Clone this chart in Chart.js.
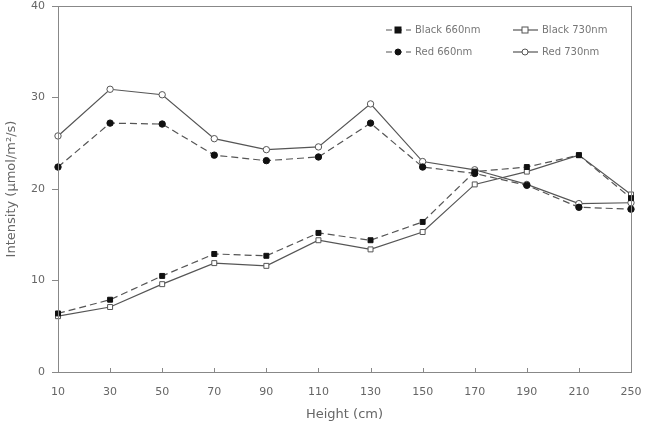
<!DOCTYPE html>
<html lang="en">
<head>
  <meta charset="UTF-8" />
  <title>Intensity vs Height</title>
  <script src="https://cdn.jsdelivr.net/npm/chart.js"></script>
  <style>
    html, body { margin: 0; padding: 0; background: #fff; }
    #wrap { width: 647px; height: 426px; }
  </style>
</head>
<body>
  <div id="wrap"><canvas id="grafico"></canvas></div>

  <script>
    const heights = ['10', '30', '50', '70', '90', '110', '130', '150', '170', '190', '210', '250'];
    const black660 = [6.4, 7.9, 10.5, 12.9, 12.7, 15.2, 14.4, 16.4, 21.9, 22.4, 23.7, 19.0];
    const black730 = [6.1, 7.1, 9.6, 11.9, 11.6, 14.4, 13.4, 15.3, 20.5, 21.9, 23.7, 19.4];
    const red660 = [22.4, 27.2, 27.1, 23.7, 23.1, 23.5, 27.2, 22.4, 21.7, 20.4, 18.0, 17.8];
    const red730 = [25.8, 30.9, 30.3, 25.5, 24.3, 24.6, 29.3, 23.0, 22.1, 20.5, 18.4, 18.5];

    const lineCol = '#555';

    function serie(label, data, style, dashed, filled) {
      return {
        label: label,
        data: data,
        borderColor: lineCol,
        borderWidth: 1.2,
        borderDash: dashed ? [7, 4] : [],
        pointStyle: style,
        pointRadius: style === 'rect' ? 3.5 : 3.2,
        pointBackgroundColor: filled ? '#111' : '#fff',
        pointBorderColor: filled ? '#111' : '#555',
        pointBorderWidth: 1,
        tension: 0
      };
    }

    // marco, ticks internos del eje x y leyenda en dos columnas
    const extras = {
      id: 'extras',
      afterDraw(chart) {
        const { ctx, chartArea: a, scales } = chart;
        ctx.save();
        ctx.strokeStyle = '#888';
        ctx.lineWidth = 1;
        ctx.strokeRect(a.left + 0.5, a.top + 0.5, a.right - a.left, a.bottom - a.top);
        ctx.beginPath();
        heights.forEach((h, i) => {
          const px = Math.round(scales.x.getPixelForValue(i)) + 0.5;
          ctx.moveTo(px, a.bottom);
          ctx.lineTo(px, a.bottom - 4);
        });
        ctx.stroke();

        const pos = [[398, 30], [525, 30], [398, 52], [525, 52]];
        ctx.font = '10px "DejaVu Sans"';
        ctx.textBaseline = 'middle';
        chart.data.datasets.forEach((ds, i) => {
          const [x, y] = pos[i];
          ctx.strokeStyle = lineCol;
          ctx.lineWidth = 1.2;
          ctx.setLineDash(ds.borderDash.length ? [6, 4] : []);
          ctx.beginPath();
          ctx.moveTo(x - 12, y);
          ctx.lineTo(x + 13, y);
          ctx.stroke();
          ctx.setLineDash([]);
          ctx.fillStyle = ds.pointBackgroundColor;
          ctx.strokeStyle = ds.pointBorderColor;
          ctx.lineWidth = 1;
          if (ds.pointStyle === 'rect') {
            ctx.fillRect(x - 3, y - 3, 6, 6);
            ctx.strokeRect(x - 3, y - 3, 6, 6);
          } else {
            ctx.beginPath();
            ctx.arc(x, y, 3, 0, Math.PI * 2);
            ctx.fill();
            ctx.stroke();
          }
          ctx.fillStyle = '#777';
          ctx.fillText(ds.label, x + 17, y);
        });
        ctx.restore();
      }
    };

    new Chart(document.getElementById('grafico'), {
      type: 'line',
      data: {
        labels: heights,
        datasets: [
          serie('Black 660nm', black660, 'rect', true, true),
          serie('Black 730nm', black730, 'rect', false, false),
          serie('Red 660nm', red660, 'circle', true, true),
          serie('Red 730nm', red730, 'circle', false, false)
        ]
      },
      plugins: [extras],
      options: {
        responsive: true,
        maintainAspectRatio: false,
        animation: false,
        layout: { padding: { top: 6, right: 16, left: 0, bottom: 0 } },
        plugins: { legend: { display: false }, tooltip: { enabled: false } },
        scales: {
          x: {
            afterFit: s => { s.height = 54; s.paddingLeft = 0; s.paddingRight = 0; },
            grid: { display: false, drawTicks: false },
            border: { display: false },
            ticks: { color: '#666', font: { family: 'DejaVu Sans', size: 11 }, padding: 14, maxRotation: 0, autoSkip: false },
            title: { display: true, text: 'Height (cm)', color: '#666', font: { family: 'DejaVu Sans', size: 13 }, padding: { top: 6 } }
          },
          y: {
            min: 0,
            max: 40,
            afterFit: s => { s.width = 58; s.paddingTop = 0; s.paddingBottom = 0; },
            grid: { drawOnChartArea: false, color: '#888', tickLength: 6 },
            border: { display: false },
            ticks: { stepSize: 10, color: '#666', font: { family: 'DejaVu Sans', size: 11 }, padding: 7 },
            title: { display: true, text: 'Intensity (μmol/m²/s)', color: '#666', font: { family: 'DejaVu Sans', size: 13 }, padding: { bottom: 2 } }
          }
        }
      }
    });
  </script>
</body>
</html>
